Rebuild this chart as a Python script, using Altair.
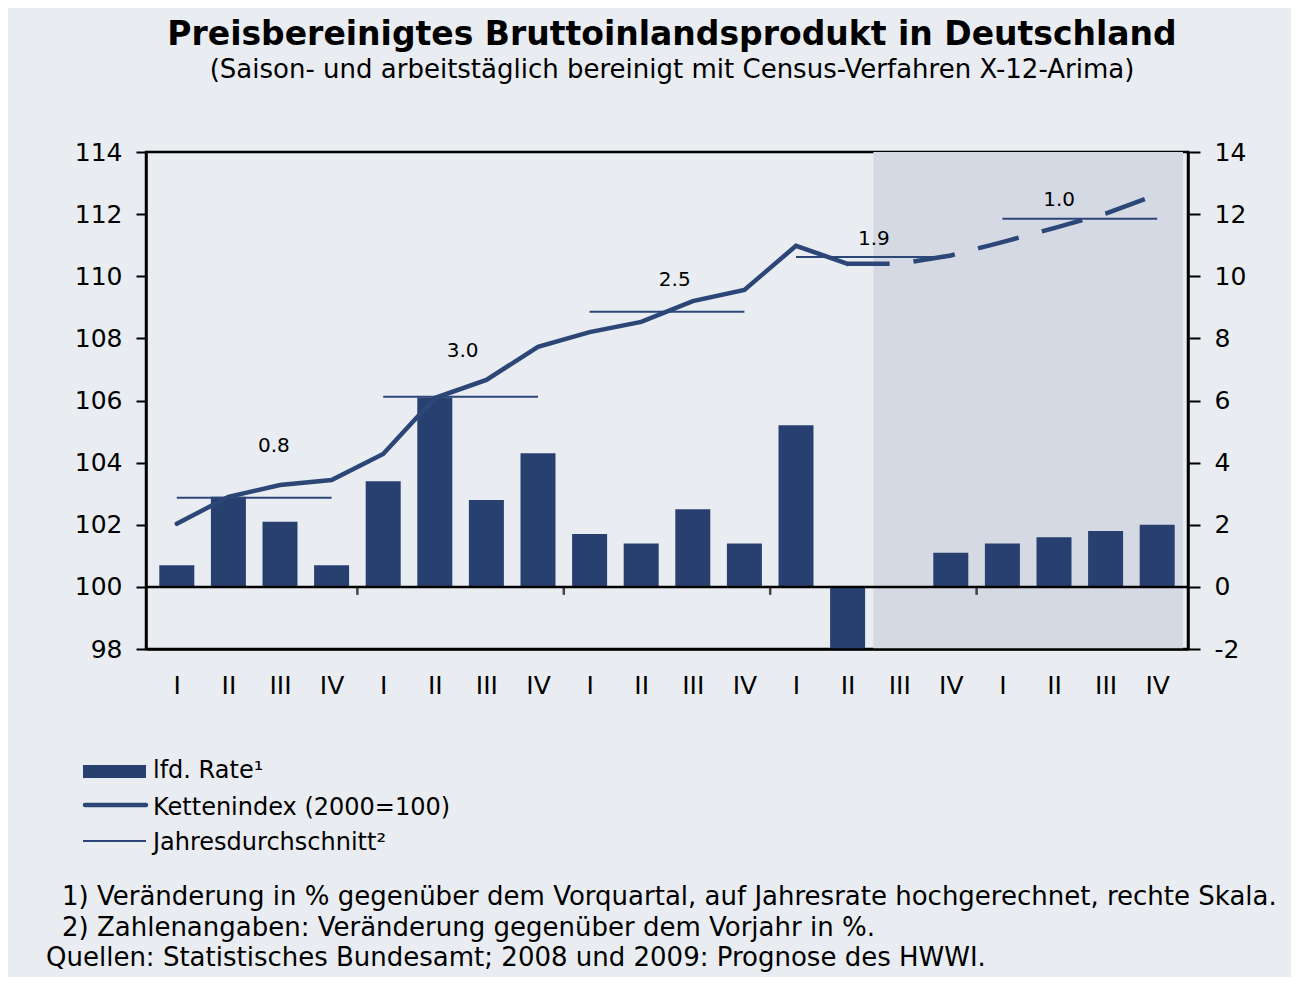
import altair as alt
import pandas as pd

# ---------------- data ----------------
quarters = ["I", "II", "III", "IV"] * 5
years = [2005] * 4 + [2006] * 4 + [2007] * 4 + [2008] * 4 + [2009] * 4
rate = [0.7, 2.9, 2.1, 0.7, 3.4, 6.1, 2.8, 4.3, 1.7, 1.4, 2.5, 1.4,
        5.2, -2.0, None, 1.1, 1.4, 1.6, 1.8, 2.0]
kettenindex = [102.03, 102.9, 103.28, 103.44, 104.28, 106.08, 106.66, 107.73,
               108.2, 108.53, 109.2, 109.56, 110.98, 110.4, 110.4, 110.67,
               111.1, 111.55, 112.02, 112.63]
year_list = [2005, 2006, 2007, 2008, 2009]
year_avg_level = [102.87, 106.12, 108.86, 110.62, 111.85]
year_growth = ["0.8", "3.0", "2.5", "1.9", "1.0"]
label_x = [2.38, 6.04, 10.15, 14.01, 17.6]
label_y = [104.35, 107.4, 109.69, 111.01, 112.27]
forecast_from = 14  # 2008 Q3 (position index)
year_breaks = [4, 8, 12, 16]
left_ticks = [98, 100, 102, 104, 106, 108, 110, 112, 114]
right_ticks = [-2, 0, 2, 4, 6, 8, 10, 12, 14]

TITLE = "Preisbereinigtes Bruttoinlandsprodukt in Deutschland"
SUBTITLE = "(Saison- und arbeitstäglich bereinigt mit Census-Verfahren X-12-Arima)"
LEGEND = ["lfd. Rate¹", "Kettenindex (2000=100)", "Jahresdurchschnitt²"]
NOTES = ["1) Veränderung in % gegenüber dem Vorquartal, auf Jahresrate hochgerechnet, rechte Skala.",
         "2) Zahlenangaben: Veränderung gegenüber dem Vorjahr in %.",
         "Quellen: Statistisches Bundesamt; 2008 und 2009: Prognose des HWWI."]

# ---------------- styles ----------------
BG = "#e9ecf1"
SHADE = "#d5d9e4"
BAR = "#28406f"
LINE = "#2c4678"
TXT_FONT = "DejaVu Sans"
NUM_FONT = "DejaVu Sans"
AX_FS = 25

n = len(quarters)
df = pd.DataFrame({
    "pos": [i + 0.5 for i in range(n)],
    "quarter": quarters,
    "year": years,
    "rate": rate,
    "index": kettenindex,
})
solid_df = df.iloc[:forecast_from].copy()
dash_df = df.iloc[forecast_from - 1:].copy()

avg_df = pd.DataFrame({
    "year": year_list,
    "start": [df[df.year == y].pos.min() for y in year_list],
    "end": [df[df.year == y].pos.max() for y in year_list],
    "level": year_avg_level,
    "growth": year_growth,
    "lx": label_x,
    "ly": label_y,
})

xs = alt.Scale(domain=[0, n], nice=False, zero=False)
ys = alt.Scale(domain=[98, 114], nice=False, zero=False)

AX_X = alt.Axis(values=[i + 0.5 for i in range(n)],
                labelExpr="['I','II','III','IV'][floor(datum.value) % 4]",
                ticks=False, domain=True, domainColor="black", domainWidth=2.5,
                labelFont=NUM_FONT, labelFontSize=AX_FS, labelColor="black",
                labelPadding=24, grid=False, zindex=1, title=None)
AX_Y = alt.Axis(values=left_ticks, orient="left", tickSize=10, tickWidth=2,
                tickColor="black", domain=True, domainColor="black", domainWidth=2.5,
                labelFont=NUM_FONT, labelFontSize=AX_FS, labelColor="black",
                labelExpr="toString(datum.value)",
                labelPadding=14, grid=False, zindex=1, title=None)

# shaded forecast area
shade = alt.Chart(pd.DataFrame({"a": [forecast_from], "b": [n], "lo": [98], "hi": [114]})).mark_rect(
    color=SHADE).encode(
    x=alt.X("a:Q", scale=xs, axis=AX_X),
    x2="b:Q",
    y=alt.Y("lo:Q", scale=ys, axis=AX_Y),
    y2="hi:Q",
)

bars = alt.Chart(df).transform_filter("isValid(datum.rate)").transform_calculate(
    top="100 + datum.rate", base="100"
).mark_bar(size=35, color=BAR).encode(
    x=alt.X("pos:Q", scale=xs, axis=AX_X),
    y=alt.Y("top:Q", scale=ys, axis=AX_Y),
    y2="base:Q",
)

zero = alt.Chart(pd.DataFrame({"z": [100]})).mark_rule(color="black", strokeWidth=2.5).encode(
    y=alt.Y("z:Q", scale=ys, axis=AX_Y)
)

breaks = alt.Chart(pd.DataFrame({"b": year_breaks, "z": [100] * len(year_breaks)})).mark_tick(
    orient="vertical", size=8, thickness=2.5, yOffset=4, color="black"
).encode(
    x=alt.X("b:Q", scale=xs, axis=AX_X),
    y=alt.Y("z:Q", scale=ys, axis=AX_Y),
)

line_solid = alt.Chart(solid_df).mark_line(color=LINE, strokeWidth=4.5, strokeCap="round").encode(
    x=alt.X("pos:Q", scale=xs, axis=AX_X),
    y=alt.Y("index:Q", scale=ys, axis=AX_Y),
)
line_dash = alt.Chart(dash_df).mark_line(color=LINE, strokeWidth=4.5, strokeDash=[42, 24]).encode(
    x=alt.X("pos:Q", scale=xs, axis=AX_X),
    y=alt.Y("index:Q", scale=ys, axis=AX_Y),
)

avg_rules = alt.Chart(avg_df).mark_rule(color=LINE, strokeWidth=2).encode(
    x=alt.X("start:Q", scale=xs, axis=AX_X),
    x2="end:Q",
    y=alt.Y("level:Q", scale=ys, axis=AX_Y),
)
avg_text = alt.Chart(avg_df).mark_text(font=NUM_FONT, fontSize=20, color="black",
                                       align="center", baseline="alphabetic").encode(
    x=alt.X("lx:Q", scale=xs, axis=AX_X),
    y=alt.Y("ly:Q", scale=ys, axis=AX_Y),
    text="growth:N",
)

# ----- titles (positions relative to plot origin) -----
def txt(s, x, y, size, align="left", weight="normal"):
    return alt.Chart(pd.DataFrame({"t": [s]})).mark_text(
        font=TXT_FONT, fontSize=size, fontWeight=weight, color="black",
        align=align, baseline="alphabetic"
    ).encode(text="t:N", x=alt.value(x), y=alt.value(y))

title = txt(TITLE, 526, -107, 33, align="center", weight="bold")
subtitle = txt(SUBTITLE, 526, -74, 26, align="center")

# ----- legend -----
leg_rect = alt.Chart(pd.DataFrame({"k": [0]})).mark_rect(color=BAR).encode(
    x=alt.value(-63), x2=alt.value(0), y=alt.value(613), y2=alt.value(626))
leg_line1 = alt.Chart(pd.DataFrame({"k": [0]})).mark_rule(color=LINE, strokeWidth=4.5, strokeCap="round").encode(
    x=alt.value(-61), x2=alt.value(0), y=alt.value(653))
leg_line2 = alt.Chart(pd.DataFrame({"k": [0]})).mark_rule(color=LINE, strokeWidth=2).encode(
    x=alt.value(-63), x2=alt.value(0), y=alt.value(689))
leg_t1 = txt(LEGEND[0], 7, 626, 24)
leg_t2 = txt(LEGEND[1], 7, 663, 24)
leg_t3 = txt(LEGEND[2], 7, 698, 24)

# ----- footnotes -----
n1 = txt(NOTES[0], -84, 753, 26)
n2 = txt(NOTES[1], -84, 784, 26)
n3 = txt(NOTES[2], -100, 814, 26)

main = alt.layer(shade, bars, zero, breaks, avg_rules, line_solid, line_dash, avg_text,
                 title, subtitle, leg_rect, leg_line1, leg_line2, leg_t1, leg_t2, leg_t3,
                 n1, n2, n3)

right = alt.Chart(df).transform_filter("isValid(datum.rate)").mark_rule(opacity=0).encode(
    y=alt.Y("rate:Q", scale=alt.Scale(domain=[-2, 14], nice=False, zero=False),
            axis=alt.Axis(values=right_ticks, orient="right", tickSize=12, tickWidth=2,
                          tickColor="black", domain=True, domainColor="black", domainWidth=2.5,
                          labelFont=NUM_FONT, labelFontSize=AX_FS, labelColor="black",
                          labelExpr="toString(datum.value)",
                          labelPadding=14, grid=False, zindex=1, title=None))
)

chart = alt.layer(main, right).resolve_scale(y="independent").properties(
    width=1042, height=497,
    background=BG,
    autosize=alt.AutoSizeParams(type="none"),
    padding={"left": 138, "top": 144, "right": 103, "bottom": 328},
).configure_view(stroke="black", strokeWidth=2.5)

chart.save("out.html", embed_options={"renderer": "svg", "actions": False})
